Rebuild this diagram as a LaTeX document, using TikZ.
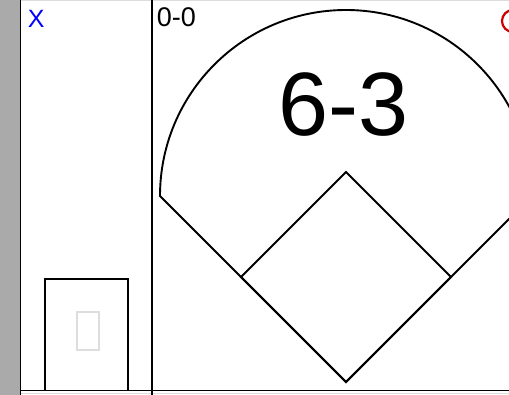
\documentclass[tikz,border=0pt]{standalone}
\usepackage{fontspec}
\setmainfont{Liberation Sans}
\usepackage{xcolor}
\usepackage{tikz}
\usetikzlibrary{calc, positioning}

\definecolor{vienxam}{RGB}{221,221,221}
\definecolor{dai}{RGB}{170,170,170}
\definecolor{xanh}{RGB}{0,0,255}
\definecolor{do}{RGB}{204,0,0}

\begin{document}
\begin{tikzpicture}[x=1pt, y=-1pt, line width=1.9pt,
    chu/.style={inner sep=0pt, anchor=base west}]
    \useasboundingbox (0,0) rectangle (509,395);
    \clip (0,0) rectangle (509,395);

    % Khung ô
    \fill[dai] (0,0) rectangle (20,395);
    \draw[vienxam, line width=1pt] (20,0.5) -- (509,0.5);
    \draw[vienxam, line width=1pt] (20,393.5) -- (509,393.5);
    \draw (20.5,0) -- (20.5,395);
    \draw (152,0) -- (152,395);
    \draw (20,390.5) -- (509,390.5);

    % Ô bên trái
    \draw (45,390.5) -- (45,279) -- (128,279) -- (128,390.5);
    \draw[vienxam] (77,312) rectangle (99,350);
    \node[chu, text=xanh, font=\fontsize{25}{25}\selectfont] (out) at (27,28) {X};

    % Các chữ
    \node[chu, font=\fontsize{27}{27}\selectfont] (count) at (156,27) {0-0};
    \node[inner sep=0pt, anchor=base, font=\fontsize{90}{90}\selectfont] (play) at (343.5,136) {6-3};
    \draw[do, line width=2.2pt] (513,21) circle[radius=11];

    % Sân bóng
    \coordinate (home) at (346,382);
    \coordinate (first) at (451,277);
    \coordinate (second) at (346,172);
    \coordinate (third) at (241,277);
    \draw (home) -- (first) -- (second) -- (third) -- cycle;
    \draw (532,196) -- (home) -- (160,196)
        arc[start angle=180, end angle=360, radius=186];

\end{tikzpicture}
\end{document}
